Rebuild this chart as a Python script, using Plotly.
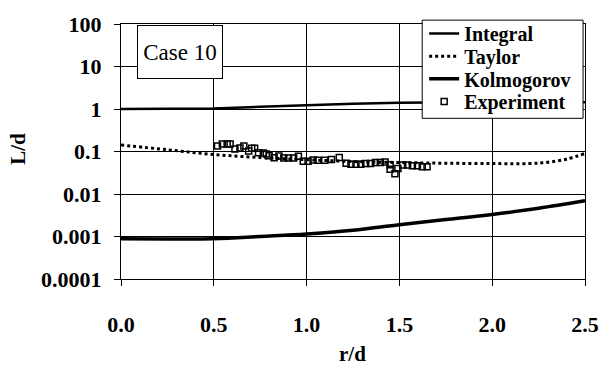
import plotly.graph_objects as go

# ---- data ----
integral_x = [0.0, 0.25, 0.5, 0.75, 1.0, 1.25, 1.5, 1.75, 2.0, 2.25, 2.5]
integral_y = [1.0, 1.0, 1.03, 1.13, 1.25, 1.33, 1.40, 1.45, 1.47, 1.47, 1.45]

taylor_x = [0.0, 0.25, 0.5, 0.75, 1.0, 1.25, 1.5, 1.75, 2.0, 2.2, 2.3, 2.4, 2.5]
taylor_y = [0.142, 0.11, 0.085, 0.072, 0.064, 0.058, 0.055, 0.053, 0.052, 0.052, 0.056, 0.066, 0.09]

kolmo_x = [0.0, 0.25, 0.5, 0.6, 0.75, 1.0, 1.25, 1.5, 1.75, 2.0, 2.25, 2.5]
kolmo_y = [0.00088, 0.00087, 0.00088, 0.00092, 0.001, 0.00115, 0.0014, 0.0019, 0.0025, 0.0033, 0.0046, 0.0069]

exp_x = [0.52, 0.546, 0.572, 0.588, 0.614, 0.641, 0.662, 0.688, 0.704, 0.720, 0.741, 0.767,
         0.783, 0.798, 0.825, 0.851, 0.877, 0.903, 0.930, 0.956, 0.982, 1.008, 1.035, 1.061,
         1.098, 1.134, 1.176, 1.213, 1.239, 1.266, 1.292, 1.318, 1.345, 1.371, 1.397, 1.423,
         1.45, 1.45, 1.476, 1.492, 1.518, 1.544, 1.570, 1.597, 1.623, 1.649]
exp_y = [0.135, 0.150, 0.150, 0.150, 0.115, 0.121, 0.134, 0.103, 0.120, 0.120, 0.093, 0.092,
         0.087, 0.079, 0.071, 0.078, 0.070, 0.070, 0.070, 0.077, 0.059, 0.059, 0.063, 0.062,
         0.062, 0.065, 0.072, 0.053, 0.050, 0.050, 0.050, 0.052, 0.052, 0.055, 0.055, 0.057,
         0.049, 0.038, 0.030, 0.040, 0.048, 0.048, 0.046, 0.046, 0.044, 0.044]

x_ticks = [0.0, 0.5, 1.0, 1.5, 2.0, 2.5]
x_ticklabels = ["0.0", "0.5", "1.0", "1.5", "2.0", "2.5"]
y_ticks = [0.0001, 0.001, 0.01, 0.1, 1, 10, 100]
y_ticklabels = ["0.0001", "0.001", "0.01", "0.1", "1", "10", "100"]

FONT = "Liberation Serif"
W, H = 611, 369
L, R, T, B = 121, 14, 14, 90
PW, PH = W - L - R, H - T - B


def px_x(px):
    return (px - L) / PW


def px_y(py):
    return (H - B - py) / PH


fig = go.Figure()
fig.add_trace(go.Scatter(x=integral_x, y=integral_y, mode="lines", name="<b>Integral</b>",
                         legend="legend",
                         line=dict(color="black", width=2.5)))
fig.add_trace(go.Scatter(x=taylor_x, y=taylor_y, mode="lines", name="<b>Taylor</b>",
                         legend="legend2",
                         line=dict(color="black", width=3, dash="dot", shape="spline")))
fig.add_trace(go.Scatter(x=kolmo_x, y=kolmo_y, mode="lines", name="<b>Kolmogorov</b>",
                         legend="legend3",
                         line=dict(color="black", width=3.5, shape="spline")))
fig.add_trace(go.Scatter(x=exp_x, y=exp_y, mode="markers", name="<b>Experiment</b>",
                         legend="legend4",
                         marker=dict(symbol="square-open", size=6, color="black",
                                     line=dict(width=1.5, color="black"))))

leg_font = dict(family=FONT, size=20, color="black")
leg_common = dict(x=px_x(432), xanchor="left", yanchor="middle",
                  bgcolor="rgba(0,0,0,0)", borderwidth=0, font=leg_font, itemwidth=30)

fig.update_layout(
    width=W, height=H,
    margin=dict(l=L, r=R, t=T, b=B),
    paper_bgcolor="white", plot_bgcolor="white",
    font=dict(family=FONT, color="black", size=20),
    showlegend=True,
    legend=dict(y=px_y(24), **leg_common),
    legend2=dict(y=px_y(47.5), **leg_common),
    legend3=dict(y=px_y(71), **leg_common),
    legend4=dict(y=px_y(94.5), **leg_common),
    xaxis=dict(range=[0, 2.5], tickvals=x_ticks,
               ticktext=["<b>%s</b>" % t for t in x_ticklabels],
               showgrid=True, gridcolor="black", gridwidth=1,
               showline=True, linecolor="black", linewidth=1, mirror=True,
               ticks="outside", ticklen=6, tickcolor="black",
               ticklabelstandoff=20,
               tickfont=dict(family=FONT, size=22, color="black"),
               zeroline=False),
    yaxis=dict(type="log", range=[-4, 2], tickvals=y_ticks,
               ticktext=["<b>%s</b>" % t for t in y_ticklabels],
               showgrid=True, gridcolor="black", gridwidth=1,
               showline=True, linecolor="black", linewidth=1, mirror=True,
               ticks="outside", ticklen=6, tickcolor="black",
               ticklabelstandoff=8,
               tickfont=dict(family=FONT, size=22, color="black"),
               zeroline=False),
)

# legend frame
fig.add_shape(type="rect", xref="paper", yref="paper",
              x0=px_x(430), x1=px_x(595), y0=px_y(112), y1=px_y(10),
              fillcolor="white", line=dict(color="black", width=1), layer="above")

fig.add_annotation(text="Case 10", xref="paper", yref="paper",
                   x=px_x(181.5), y=px_y(43.5), xanchor="center", yanchor="middle",
                   showarrow=False, bgcolor="white", bordercolor="black", borderwidth=1,
                   width=82, height=50, valign="middle", yshift=0,
                   font=dict(family=FONT, size=23, color="black"))
fig.add_annotation(text="<b>L/d</b>", textangle=-90, xref="paper", yref="paper",
                   x=px_x(15), y=px_y(144), xanchor="center", yanchor="middle",
                   showarrow=False, font=dict(family=FONT, size=21, color="black"))
fig.add_annotation(text="<b>r/d</b>", xref="paper", yref="paper",
                   x=px_x(358), y=px_y(357), xanchor="center", yanchor="middle",
                   showarrow=False, font=dict(family=FONT, size=21, color="black"))

fig.write_html("out.html")
